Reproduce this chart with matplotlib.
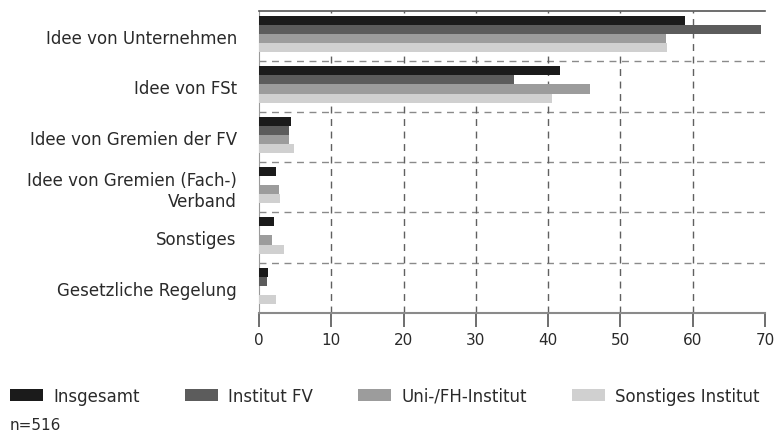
import numpy as np
import matplotlib.pyplot as plt
from matplotlib.patches import Patch

# categories (top to bottom) and series values in percent
categories = ["Idee von Unternehmen", "Idee von FSt", "Idee von Gremien der FV",
              "Idee von Gremien (Fach-)\nVerband", "Sonstiges", "Gesetzliche Regelung"]
series_names = ["Insgesamt", "Institut FV", "Uni-/FH-Institut", "Sonstiges Institut"]
insgesamt = [58.9, 41.6, 4.4, 2.4, 2.1, 1.2]
institut_fv = [69.5, 35.3, 4.2, 0.0, 0.0, 1.1]
uni_fh = [56.3, 45.8, 4.1, 2.8, 1.8, 0.0]
sonstiges_inst = [56.5, 40.5, 4.9, 2.9, 3.5, 2.3]
xticks = [0, 10, 20, 30, 40, 50, 60, 70]

colors = ["#1b1b1b", "#5c5c5c", "#9c9c9c", "#d0d0d0"]

plt.rcParams['font.family'] = ['DejaVu Sans']

fig = plt.figure(figsize=(7.81, 4.39), dpi=100)
ax = fig.add_axes([259/781, 1 - 314/439, (765 - 259)/781, (314 - 12)/439])

y = np.arange(len(categories))
h = 0.18
all_series = [insgesamt, institut_fv, uni_fh, sonstiges_inst]
for i, vals in enumerate(all_series):
    ax.barh(y + (i - 1.5) * h - 0.04, vals, height=h, color=colors[i], zorder=3)

ax.set_xlim(0, 70)
ax.set_ylim(len(categories) - 0.5, -0.5)

# dashed separators between groups and vertical grid
for s in np.arange(0.5, len(categories) - 0.5, 1):
    ax.axhline(s, color="#8a8a8a", lw=1, ls=(0, (5, 4)), zorder=1)
for t in xticks[1:-1]:
    ax.axvline(t, color="#606060", lw=1, ls=(0, (5, 4)), zorder=1)

ax.set_yticks(y)
ax.set_yticklabels(categories, fontsize=12, color="#2a2a2a")
ax.tick_params(axis='y', length=0, pad=16)
ax.set_xticks(xticks)
ax.set_xticklabels([str(t) for t in xticks], fontsize=11, color="#2a2a2a")
ax.tick_params(axis='x', length=10, width=1.2, color="#555555", pad=4)

ax.spines['top'].set_color("#555555")
ax.spines['top'].set_linewidth(1.2)
ax.spines['right'].set_visible(False)
ax.spines['left'].set_color("#9a9a9a")
ax.spines['bottom'].set_color("#8a8a8a")
ax.spines['bottom'].set_linewidth(1.5)

handles = [Patch(facecolor=c, edgecolor='none') for c in colors]
fig.legend(handles, series_names, loc='center left', bbox_to_anchor=(0.004, 1 - 397/439),
           ncol=4, frameon=False, fontsize=12, handlelength=2.0, handleheight=0.75,
           handletextpad=0.6, columnspacing=2.7, borderaxespad=0, borderpad=0.4,
           labelcolor="#2a2a2a")

fig.text(10/781, 1 - 426/439, "n=516", fontsize=11, color="#2a2a2a", va='center')

fig.savefig("out.png", dpi=100)
